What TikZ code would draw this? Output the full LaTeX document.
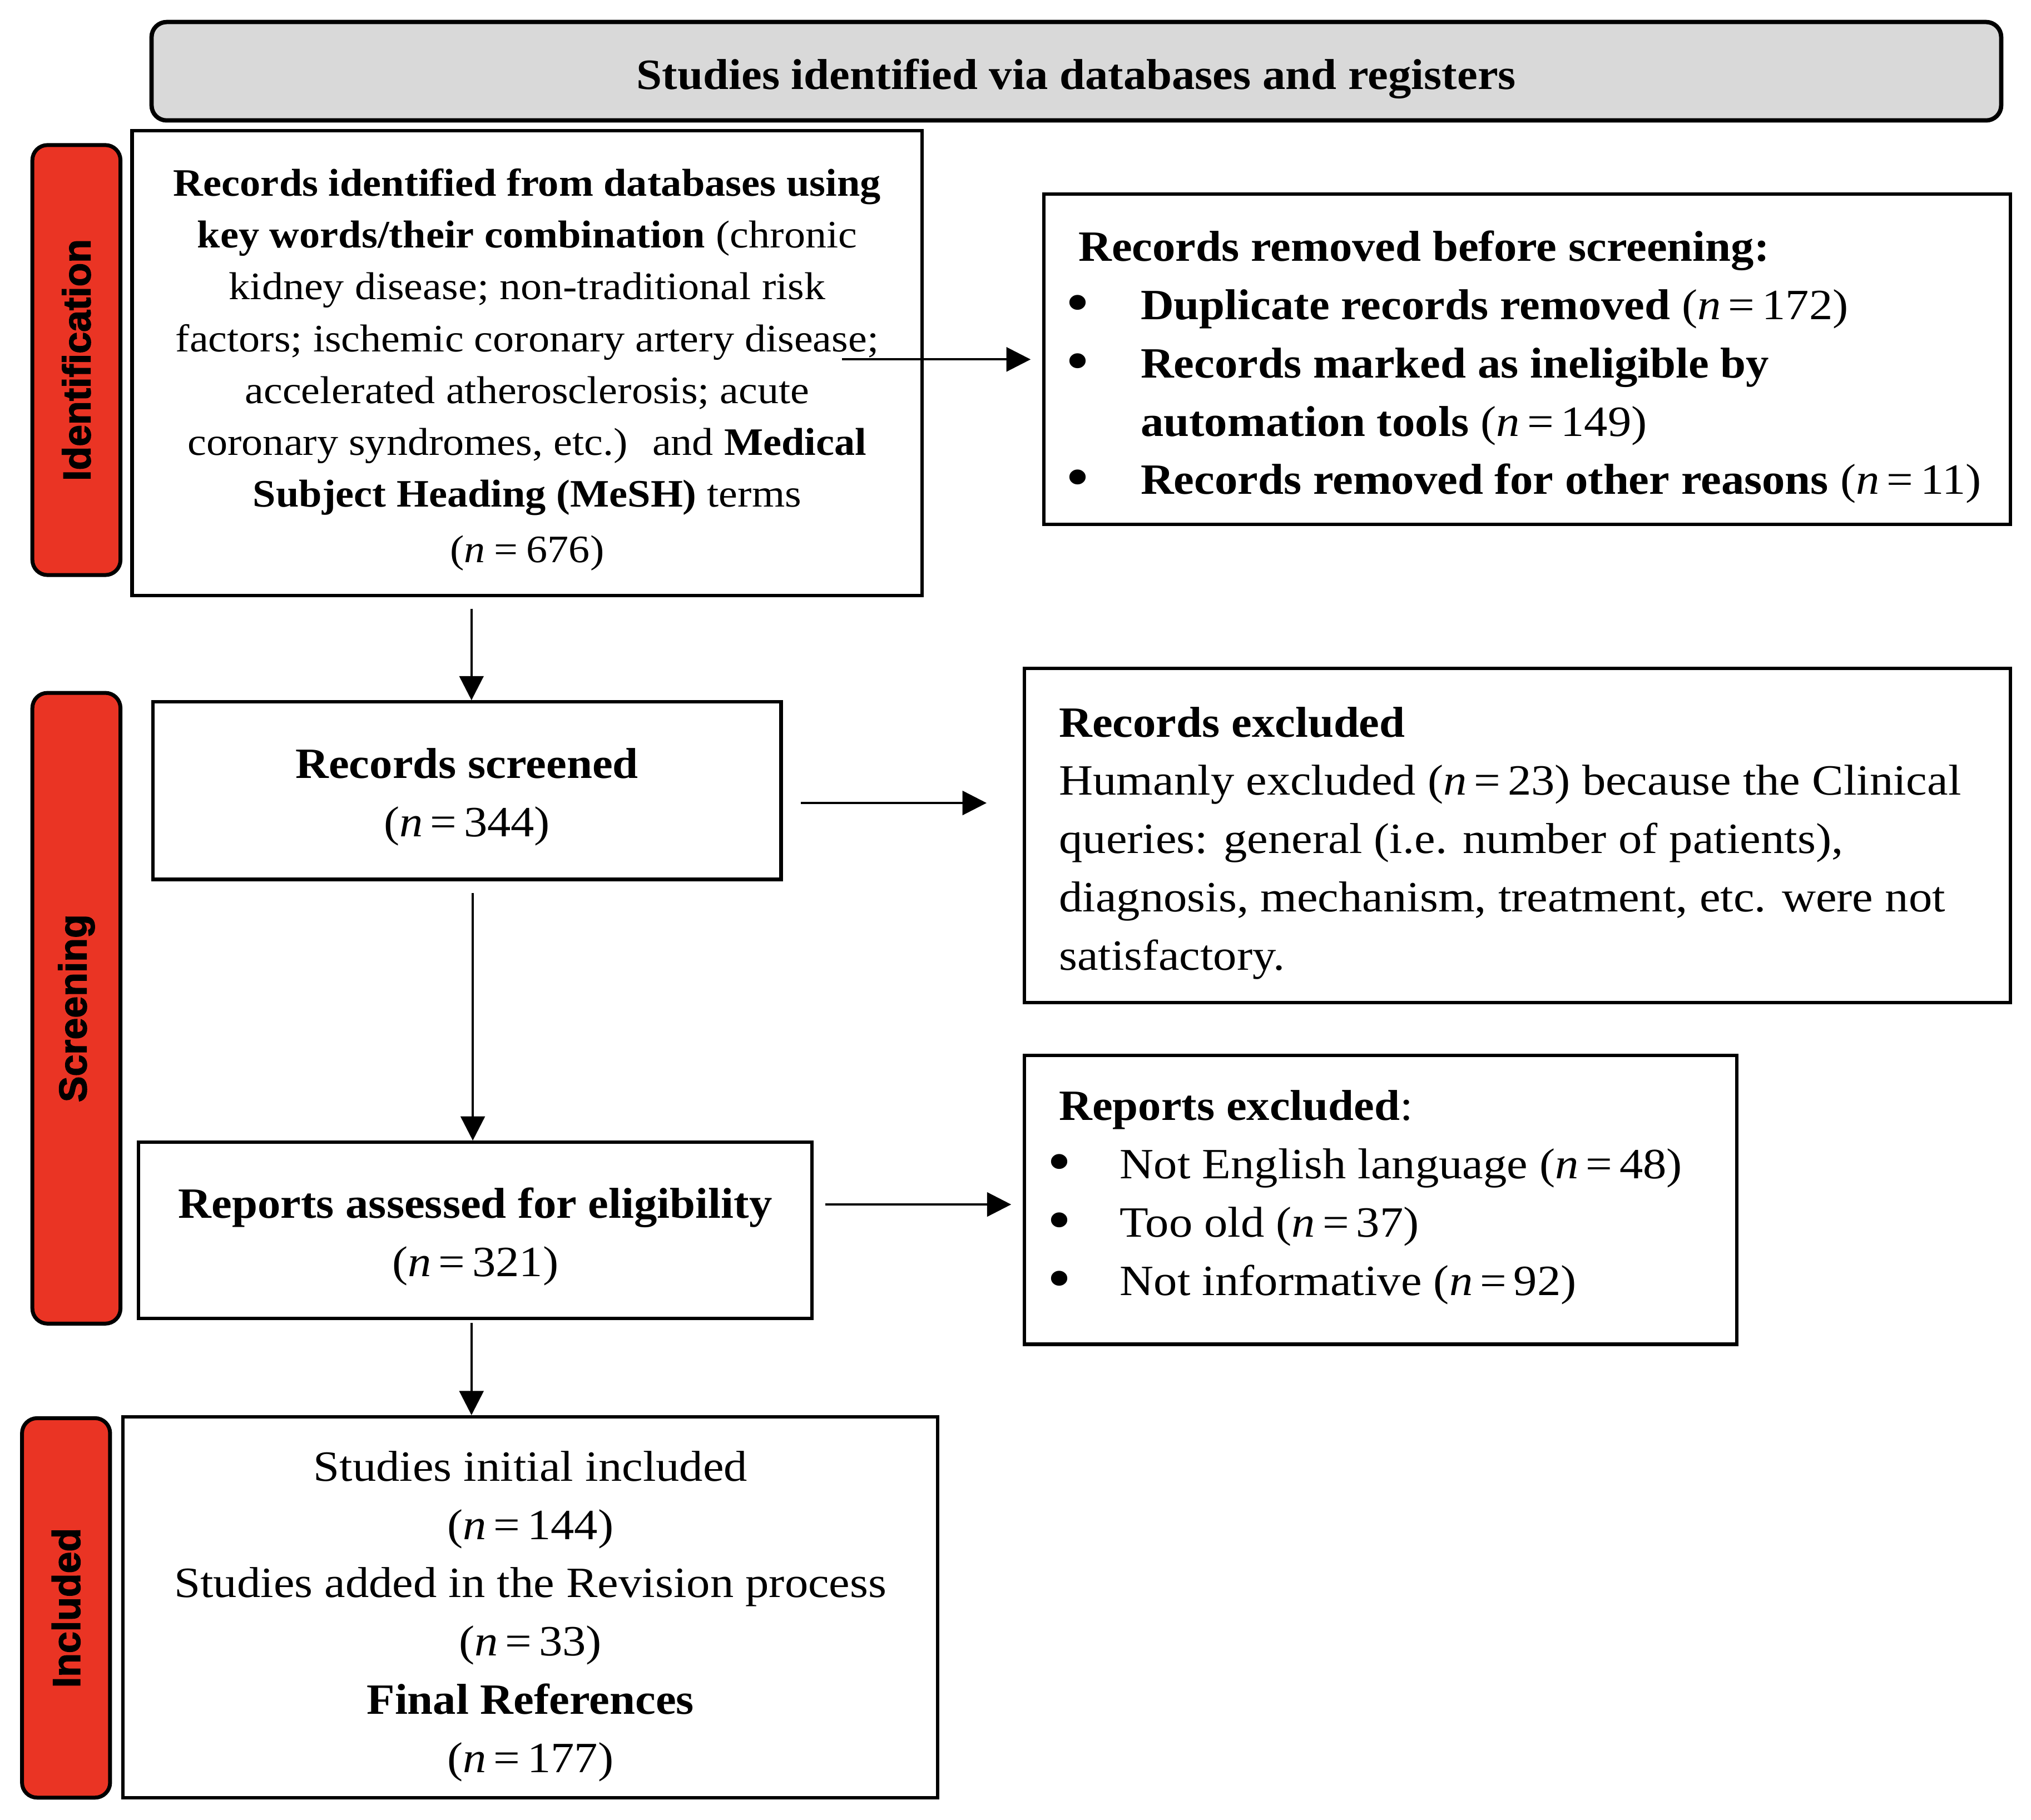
\documentclass[tikz,border=0pt]{standalone}
\usepackage{fontspec}
\setmainfont{Liberation Serif}[FakeStretch=1.09, BoldFeatures={FakeStretch=1.065}, BoldItalicFeatures={FakeStretch=1.065}]
\newfontfamily\barfont{Liberation Sans}[BoldFeatures={FakeBold=2.2}]
\usetikzlibrary{arrows.meta}
\definecolor{barred}{RGB}{234,52,36}
\definecolor{topgrey}{RGB}{217,217,217}
\newcommand{\nn}[1]{(\textit{n}\,=\,#1)}
\newcommand{\bul}{\raisebox{-0.9pt}{\scalebox{1.45}{\textbullet}}}
\begin{document}
\begin{tikzpicture}[x=0.3pt,y=-0.3pt,
  box/.style={draw, line width=0.8pt, inner sep=0pt},
  txt/.style={inner sep=0pt, align=center, font=\fontsize{10}{13.5}\selectfont},
  ltxt/.style={inner sep=0pt, align=left, anchor=west, font=\fontsize{10}{13.5}\selectfont},
  sidebar/.style={draw, line width=0.9pt, fill=barred, rounded corners=3.5pt, rotate=90, inner sep=0pt,
    minimum height=20.4pt, font=\barfont\bfseries\fontsize{9}{10}\selectfont},
  arr/.style={-{Triangle[length=5.6pt,width=5.6pt]}, line width=0.5pt}
]
\useasboundingbox (0,0) rectangle (1568,1405);

% top banner
\node[draw, line width=1pt, fill=topgrey, rounded corners=3.5pt, minimum width=428.4pt, minimum height=22.8pt,
  inner sep=0pt] (top) at (831,55) {};
\node[txt] (topt) at (831,61) {\textbf{Studies identified via databases and registers}};

% side bars
\node[sidebar, minimum width=99.6pt] (bid) at (59,278) {Identification};
\node[sidebar, minimum width=146.1pt] (bsc) at (59,778.5) {Screening};
\node[sidebar, minimum width=87.9pt] (bin) at (51,1241.5) {Included};

% identification box
\node[box, minimum width=183pt, minimum height=107.7pt] (ident) at (407,280.5) {};
\node[txt, font=\fontsize{9}{12}\selectfont] (identt) at (407,285.5)
  {\textbf{Records identified from databases using}\\
   \textbf{key words/their combination} (chronic\\
   kidney disease; non-traditional risk\\
   factors; ischemic coronary artery disease;\\
   accelerated atherosclerosis; acute\\
   coronary syndromes, etc.)~ and \textbf{Medical}\\
   \textbf{Subject Heading (MeSH)} terms\\[0.9pt]
   (\textit{n}\:=\:676)};

% removed box
\node[box, minimum width=223.8pt, minimum height=76.5pt] (rem) at (1179,277.5) {};
\node[ltxt] (remt) at (832,283.5)
  {\textbf{Records removed before screening:}\\
   \hspace*{-3pt}\makebox[17.4pt][l]{\bul}\textbf{Duplicate records removed} \nn{172}\\
   \hspace*{-3pt}\makebox[17.4pt][l]{\bul}\textbf{Records marked as ineligible by}\\
   \hspace*{14.4pt}\textbf{automation tools} \nn{149}\\
   \hspace*{-3pt}\makebox[17.4pt][l]{\bul}\textbf{Records removed for other reasons} \nn{11}};

% records screened
\node[box, minimum width=145.5pt, minimum height=41.1pt] (scr) at (360.5,610.5) {};
\node[txt] (scrt) at (360.5,615.5) {\textbf{Records screened}\\ \nn{344}};

% records excluded
\node[box, minimum width=228.3pt, minimum height=77.4pt] (exc) at (1171.5,645) {};
\node[ltxt] (exct) at (817,651)
  {\textbf{Records excluded}\\
   Humanly excluded \nn{23} because the Clinical\\
   queries: general (i.e. number of patients),\\
   diagnosis, mechanism, treatment, etc. were not\\
   satisfactory.};

% reports assessed
\node[box, minimum width=156pt, minimum height=40.8pt] (ass) at (367,950) {};
\node[txt] (asst) at (367,955) {\textbf{Reports assessed for eligibility}\\ \nn{321}};

% reports excluded
\node[box, minimum width=165pt, minimum height=66.9pt] (rex) at (1066,926.5) {};
\node[ltxt] (rext) at (817,924.5)
  {\textbf{Reports excluded}:\\
   \hspace*{-2.7pt}\makebox[16.8pt][l]{\bul}Not English language \nn{48}\\
   \hspace*{-2.7pt}\makebox[16.8pt][l]{\bul}Too old \nn{37}\\
   \hspace*{-2.7pt}\makebox[16.8pt][l]{\bul}Not informative \nn{92}};

% included
\node[box, minimum width=188.7pt, minimum height=88.2pt] (inc) at (409.5,1241) {};
\node[txt] (inct) at (409.5,1248)
  {Studies initial included\\
   \nn{144}\\
   Studies added in the Revision process\\
   \nn{33}\\
   \textbf{Final References}\\
   \nn{177}};

% connectors
\coordinate (a1s) at (650,277.5);
\draw[arr, shorten >=2.7pt] (a1s) -- (a1s -| rem.west);
\coordinate (a2s) at (364,470);
\draw[arr] (a2s) -- (a2s |- scr.north);
\coordinate (a3) at (0,620);
\draw[arr, shorten <=4.2pt, shorten >=8.4pt] (a3 -| scr.east) -- (a3 -| exc.west);
\coordinate (a4) at (365,0);
\draw[arr, shorten <=2.7pt] (a4 |- scr.south) -- (a4 |- ass.north);
\coordinate (a5) at (0,930);
\draw[arr, shorten <=2.7pt, shorten >=2.7pt] (a5 -| ass.east) -- (a5 -| rex.west);
\coordinate (a6) at (364,0);
\draw[arr, shorten <=0.6pt] (a6 |- ass.south) -- (a6 |- inc.north);
\end{tikzpicture}
\end{document}
